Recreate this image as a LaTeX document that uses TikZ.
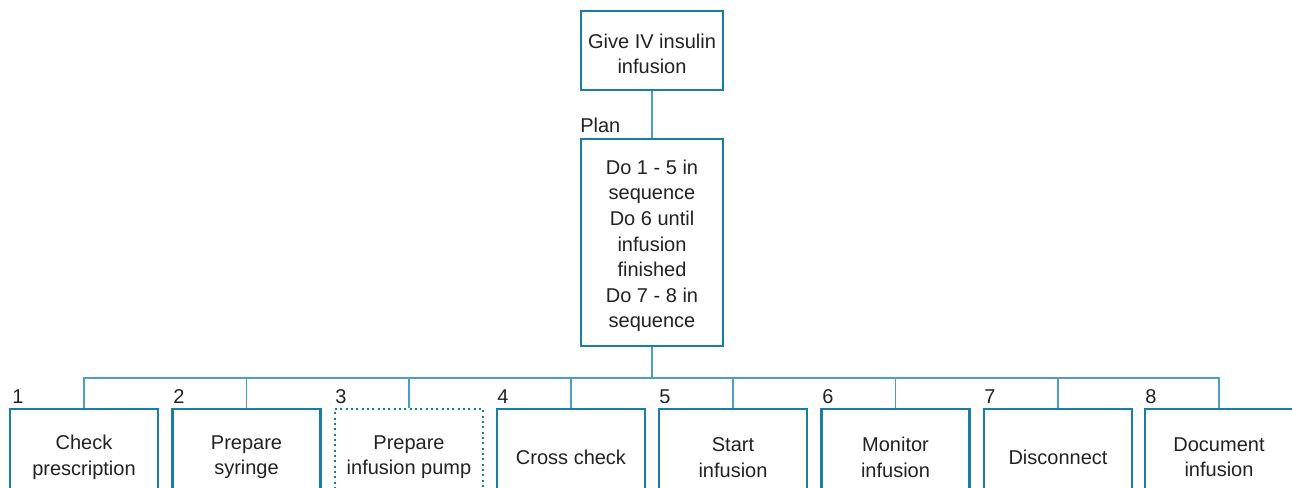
\documentclass[tikz,border=0pt]{standalone}
\usepackage{fontspec}
\setmainfont{Liberation Sans}
\definecolor{boxblue}{HTML}{1A7DA6}
\definecolor{linkblue}{HTML}{4A9FC2}
\definecolor{txt}{HTML}{222222}
\tikzset{
  taskbox/.style={draw=boxblue, line width=2pt, fill=white,
    minimum width=111pt, minimum height=67.5pt, inner sep=0pt},
  boxtext/.style={text=txt, align=center, inner sep=0pt, yshift=-2.5pt,
    font=\fontsize{15}{19.2}\selectfont},
  dotbox/.style={taskbox, line width=1.9pt, dash pattern=on 1.4pt off 2.6pt},
  topbox/.style={taskbox, minimum width=106.5pt},
  link/.style={draw=linkblue, line width=1.2pt},
  numlab/.style={anchor=west, text=txt, inner sep=0pt, font=\fontsize{15}{18}\selectfont}
}
\begin{document}
\begin{tikzpicture}[x=0.75pt, y=-0.75pt]
\path[use as bounding box] (0,0) rectangle (1292,488);
\clip (0,0) rectangle (1292,488);
\node[topbox, minimum height=59.25pt, label={[boxtext]center:{Give IV insulin\\infusion}}] (goal) at (652,50.5) {};
\node[topbox, minimum height=155.25pt, label={[boxtext]center:{Do 1 - 5 in\\sequence\\Do 6 until\\infusion\\finished\\Do 7 - 8 in\\sequence}}] (plan) at (652,242.5) {};
\node[numlab] (planlab) at (580,125) {Plan};
\coordinate (bar) at (652,378);
\node[taskbox, label={[boxtext]center:{Check\\prescription}}] (b1) at (84,454) {};
\node[taskbox, label={[boxtext]center:{Prepare\\syringe}}] (b2) at (246.5,454) {};
\node[dotbox, label={[boxtext]center:{Prepare\\infusion pump}}] (b3) at (409,454) {};
\node[taskbox, label={[boxtext]center:{Cross check}}] (b4) at (571,454) {};
\node[taskbox, label={[boxtext]center:{Start\\infusion}}] (b5) at (733,454) {};
\node[taskbox, label={[boxtext]center:{Monitor\\infusion}}] (b6) at (895.5,454) {};
\node[taskbox, label={[boxtext]center:{Disconnect}}] (b7) at (1058,454) {};
\node[taskbox, label={[boxtext]center:{Document\\infusion}}] (b8) at (1219,454) {};
\foreach \i/\x in {1/12,2/173,3/335,4/497,5/659,6/822,7/984,8/1145}
  \node[numlab] (n\i) at (\x,397) {\i};
\path[link] (goal.south) -- (plan.north);
\path[link] (plan.south) -- (bar);
\foreach \i in {1,...,8}
  \path[link] (bar) -| (b\i.north);
\end{tikzpicture}
\end{document}
